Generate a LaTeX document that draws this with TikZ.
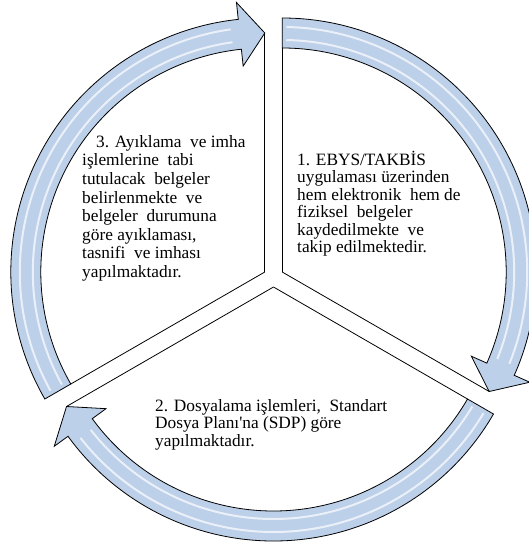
\documentclass[tikz,border=0pt]{standalone}
\usepackage{fontspec}
\setmainfont{Liberation Serif}
\usetikzlibrary{calc}

\definecolor{bandblue}{RGB}{188,208,233}

\begin{document}
\begin{tikzpicture}[
  x=1pt, y=1pt,
  band/.style={draw=black, line width=0.8pt, fill=bandblue, line join=miter},
  gloss/.style={draw=white, line width=2pt, opacity=0.7},
  side/.style={draw=black, line width=0.8pt},
  txt/.style={anchor=north west, align=left, inner sep=0pt, font=\fontsize{17.3}{17.4}\selectfont}
]
\useasboundingbox (0,0) rectangle (528,-545);

% the three sectors: apex, start angle, end angle
\foreach \ax/\ay/\s/\e/\nm in {282.2/-272/90/-30/one, 273.5/-287/-30/-150/two, 264.8/-272/-150/-270/three}{
  \coordinate (\nm-apex) at (\ax,\ay);
  \pgfmathsetmacro{\hb}{\e+6}
  \pgfmathsetmacro{\gs}{\s-1}
  \pgfmathsetmacro{\ge}{\hb+2}
  \coordinate (\nm-tip) at ($(\nm-apex)+(\e:239)$);
  % curved arrow
  \path[band] ($(\nm-apex)+(\s:224)$) -- ($(\nm-apex)+(\s:254)$)
    arc[start angle=\s, end angle=\hb, radius=254]
    -- ($(\nm-apex)+(\hb:271)$) -- (\nm-tip) -- ($(\nm-apex)+(\hb:207)$)
    -- ($(\nm-apex)+(\hb:224)$)
    arc[start angle=\hb, end angle=\s, radius=224] -- cycle;
  \draw[gloss] ($(\nm-apex)+(\gs:232)$) arc[start angle=\gs, end angle=\ge, radius=232];
  \draw[gloss] ($(\nm-apex)+(\gs:245)$) arc[start angle=\gs, end angle=\ge, radius=245];
  % sides of the wedge
  \draw[side] (\nm-apex) -- ($(\nm-apex)+(\s:224)$);
  \draw[side] (\nm-apex) -- (\nm-tip);
}

\node[txt] (stepone) at (297,-151) {1. EBYS/TAKBİS\\uygulaması üzerinden\\hem elektronik \ hem de\\fiziksel \ belgeler\\kaydedilmekte \ ve\\takip edilmektedir.};
\node[txt] (steptwo) at (155,-399) {2. Dosyalama işlemleri, \ Standart\\Dosya Planı\textquotesingle na (SDP) göre\\yapılmaktadır.};
\node[txt, font=\fontsize{17.3}{18.6}\selectfont] (stepthree) at (82,-135) {\hspace{14pt}3. Ayıklama \ ve imha\\işlemlerine \ tabi\\tutulacak \ belgeler\\belirlenmekte \ ve\\belgeler \ durumuna\\göre ayıklaması,\\tasnifi \ ve imhası\\yapılmaktadır.};

\end{tikzpicture}
\end{document}
